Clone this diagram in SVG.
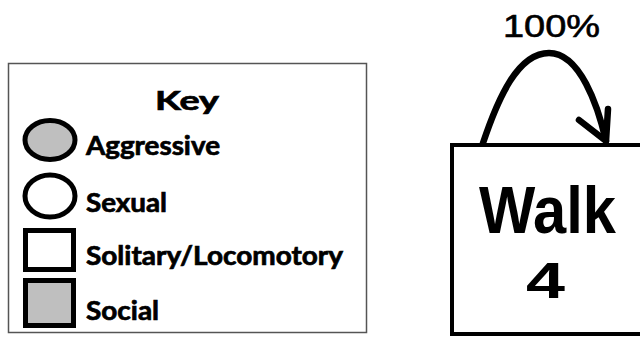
<svg xmlns="http://www.w3.org/2000/svg" width="640" height="337" viewBox="0 0 640 337">
  <style>
    .key-label { font-family: Lato, "Liberation Sans", sans-serif; font-weight: bold; font-size: 26px; fill: #000; stroke: #000; stroke-width: 0.7; }
    .sym { stroke: #000; stroke-width: 5; }
    .gray { fill: #bfbfbf; }
    .white { fill: #fff; }
    .node-text { font-family: "Liberation Sans", Arial, sans-serif; font-weight: bold; fill: #000; text-anchor: middle; }
    .edge { fill: none; stroke: #000; stroke-width: 6.5; stroke-linecap: round; stroke-linejoin: round; }
  </style>
  <rect width="640" height="337" fill="#fff"/>

  <!-- legend -->
  <g id="key">
    <rect x="8.5" y="63.5" width="358" height="269" fill="#fff" stroke="#555" stroke-width="1.5"/>
    <text class="key-label" x="155" y="110" font-size="33" textLength="64" lengthAdjust="spacingAndGlyphs">Key</text>
    <ellipse class="sym gray" cx="50" cy="140" rx="25" ry="19.5"/>
    <text class="key-label" x="86" y="155" textLength="134" lengthAdjust="spacingAndGlyphs">Aggressive</text>
    <ellipse class="sym white" cx="50" cy="196" rx="25" ry="21"/>
    <text class="key-label" x="86" y="212" textLength="81" lengthAdjust="spacingAndGlyphs">Sexual</text>
    <rect class="sym white" x="25.5" y="230.5" width="48" height="39"/>
    <text class="key-label" x="86" y="265" textLength="257" lengthAdjust="spacingAndGlyphs">Solitary/Locomotory</text>
    <rect class="sym gray" x="25.5" y="280.5" width="48" height="45"/>
    <text class="key-label" x="86" y="320" textLength="73" lengthAdjust="spacingAndGlyphs">Social</text>
  </g>

  <!-- behaviour node -->
  <g id="walk">
    <rect x="452" y="145" width="196" height="189" fill="#fff" stroke="#000" stroke-width="4"/>
    <text class="node-text" x="547.5" y="233" font-size="66" textLength="137" lengthAdjust="spacingAndGlyphs">Walk</text>
    <text class="node-text" x="545.5" y="298" font-size="50" textLength="39" lengthAdjust="spacingAndGlyphs">4</text>
  </g>

  <!-- transitions -->
  <g id="connectors">
    <path class="edge" d="M483,143 C498,98 518,53 549,53 C580,53 598,106 606,141"/>
    <polyline class="edge" points="579,120 606,141 608,109"/>
    <text x="551.5" y="37" font-family="Liberation Sans, Arial, sans-serif" font-size="31" text-anchor="middle" textLength="97" lengthAdjust="spacingAndGlyphs" stroke="#000" stroke-width="0.6">100%</text>
  </g>
</svg>
